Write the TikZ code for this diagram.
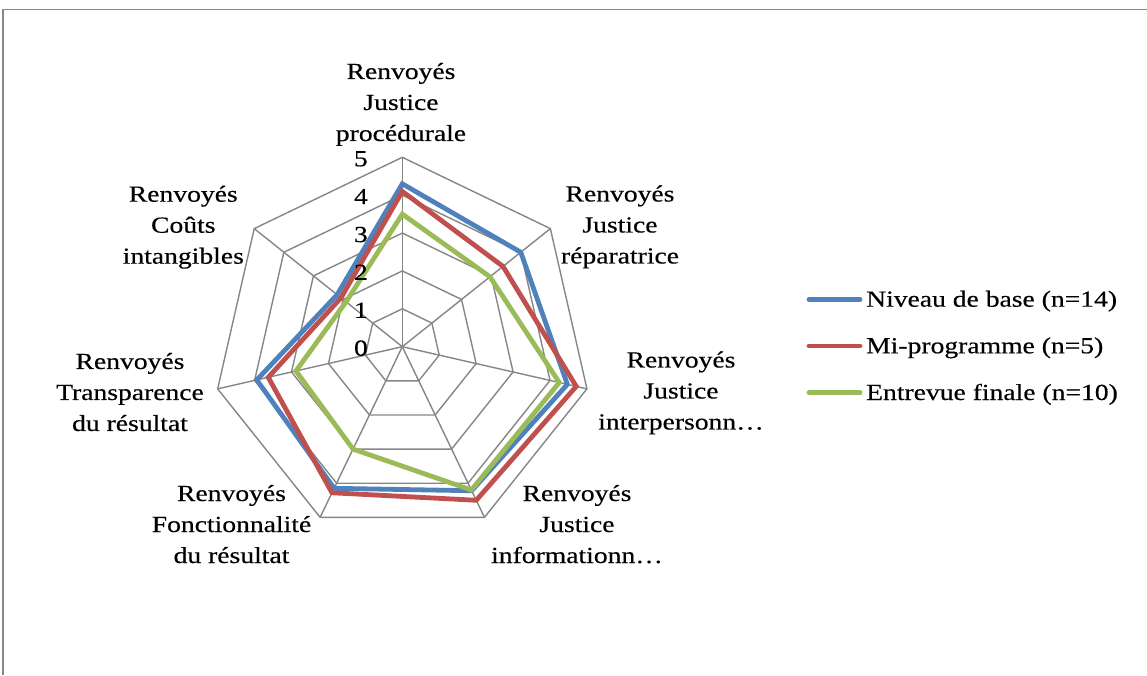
\documentclass[tikz,border=0pt]{standalone}
\usepackage{fontspec}
\setmainfont{Liberation Serif}[FakeStretch=1.2,FakeBold=0.4]
\definecolor{cblue}{HTML}{4F81BD}
\definecolor{cred}{HTML}{C0504D}
\definecolor{cgreen}{HTML}{9BBB59}
\definecolor{gridgray}{HTML}{868686}
\begin{document}
\begin{tikzpicture}[x=1pt,y=1pt,
  frame/.style={draw=gridgray, line width=1.5pt},
  grid/.style={draw=gridgray, line width=1.4pt},
  series/.style={line width=4.8pt, line join=miter, line cap=round},
  lab/.style={font=\fontsize{23}{31}\selectfont, inner sep=0pt, anchor=base},
  tick/.style={font=\fontsize{23}{31}\selectfont, inner sep=0pt, anchor=base east},
  leg/.style={font=\fontsize{23}{31}\selectfont, inner sep=0pt, anchor=base west},
  legline/.style={line width=4.8pt, line cap=round},
]
\useasboundingbox (0,0) rectangle (1147,675);
\draw[frame] (1147,665.5) -- (3,665.5) -- (3,0);

\begin{scope}[shift={(402.3,328.3)}]
\begin{scope}[x=37.88pt,y=37.88pt]
  \coordinate (O) at (0,0);
  \foreach \k in {0,...,6} \coordinate (A\k) at ({90-\k*360/7}:5);
  \foreach \l in {1,...,5}
    \draw[grid] (90:\l) \foreach \k in {1,...,6} { -- ({90-\k*360/7}:\l) } -- cycle;
  \foreach \k in {0,...,6} \draw[grid] (O) -- (A\k);
  % series
  \draw[series,cblue] (90:4.3) -- ({90-360/7}:4.0) -- ({90-2*360/7}:4.47) -- ({90-3*360/7}:4.22)
     -- ({90-4*360/7}:4.15) -- ({90-5*360/7}:3.94) -- ({90-6*360/7}:2.2) -- cycle;
  \draw[series,cred] (90:4.1) -- ({90-360/7}:3.4) -- ({90-2*360/7}:4.71) -- ({90-3*360/7}:4.5)
     -- ({90-4*360/7}:4.28) -- ({90-5*360/7}:3.63) -- ({90-6*360/7}:2.07) -- cycle;
  \draw[series,cgreen] (90:3.5) -- ({90-360/7}:2.96) -- ({90-2*360/7}:4.25) -- ({90-3*360/7}:4.2)
     -- ({90-4*360/7}:3.0) -- ({90-5*360/7}:2.88) -- ({90-6*360/7}:1.9) -- cycle;
\end{scope}
\end{scope}

% tick labels
\foreach \v in {0,...,5}
  \node[tick] (t\v) at (368,{319.3+37.88*\v}) {\v};

% category labels
\node[lab] (c1) at (401,596) {\begin{tabular}[t]{@{}c@{}}Renvoyés\\Justice\\procédurale\end{tabular}};
\node[lab] (c2) at (620,473.5) {\begin{tabular}[t]{@{}c@{}}Renvoyés\\Justice\\réparatrice\end{tabular}};
\node[lab] (c3) at (681,307.5) {\begin{tabular}[t]{@{}c@{}}Renvoyés\\Justice\\interpersonn…\end{tabular}};
\node[lab] (c4) at (577,174) {\begin{tabular}[t]{@{}c@{}}Renvoyés\\Justice\\informationn…\end{tabular}};
\node[lab] (c5) at (231.5,174) {\begin{tabular}[t]{@{}c@{}}Renvoyés\\Fonctionnalité\\du résultat\end{tabular}};
\node[lab] (c6) at (130,306) {\begin{tabular}[t]{@{}c@{}}Renvoyés\\Transparence\\du résultat\end{tabular}};
\node[lab] (c7) at (183.3,473.3) {\begin{tabular}[t]{@{}c@{}}Renvoyés\\Coûts\\intangibles\end{tabular}};

% legend
\node[leg] (l1) at (866,368.3) {Niveau de base (n=14)};
\node[leg] (l2) at (866,321.7) {Mi-programme (n=5)};
\node[leg] (l3) at (866,275) {Entrevue finale (n=10)};
\draw[legline,cblue] (809,375.7) -- (860,375.7);
\draw[legline,cred] (809,329) -- (860,329);
\draw[legline,cgreen] (809,282.3) -- (860,282.3);
\end{tikzpicture}
\end{document}
